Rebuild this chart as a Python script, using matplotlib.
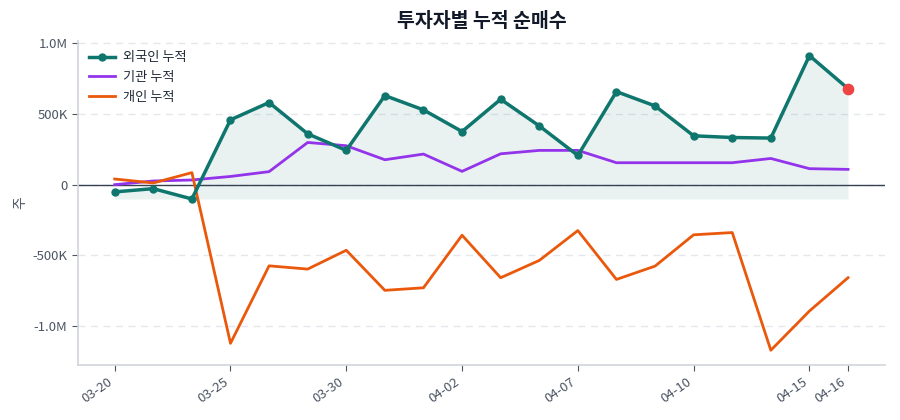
import matplotlib
matplotlib.use("Agg")
import matplotlib.pyplot as plt
from matplotlib.ticker import FuncFormatter

plt.rcParams['font.family'] = ['Noto Sans CJK KR', 'DejaVu Sans']

dates = ["03-20", "03-23", "03-24", "03-25", "03-26", "03-27", "03-30", "03-31",
         "04-01", "04-02", "04-03", "04-06", "04-07", "04-08", "04-09", "04-10",
         "04-13", "04-14", "04-15", "04-16"]
foreign = [-51e3, -28e3, -101e3, 458e3, 580e3, 359e3, 242e3, 629e3, 528e3, 375e3,
           603e3, 415e3, 206e3, 657e3, 556e3, 345e3, 333e3, 329e3, 911e3, 678e3]
institution = [0, 26e3, 33e3, 58e3, 92e3, 298e3, 275e3, 176e3, 216e3, 94e3,
               218e3, 242e3, 242e3, 155e3, 155e3, 155e3, 155e3, 185e3, 113e3, 108e3]
individual = [40e3, 12e3, 85e3, -1120e3, -573e3, -596e3, -463e3, -746e3, -728e3, -357e3,
              -657e3, -535e3, -324e3, -669e3, -575e3, -354e3, -338e3, -1169e3, -892e3, -657e3]
tick_idx = [0, 3, 6, 9, 12, 15, 18, 19]

C_FOR = "#0f766e"
C_INS = "#9333ea"
C_IND = "#ea580c"
TXT = "#4b5563"

fig = plt.figure(figsize=(9, 4.2), dpi=100)
ax = fig.add_axes([0.0867, 0.131, 0.8963, 0.7716])
x = list(range(len(dates)))

ax.fill_between(x, foreign, min(foreign), color=C_FOR, alpha=0.09, linewidth=0, zorder=1)
ax.axhline(0, color="#374151", linewidth=1.0, zorder=2)
ax.plot(x, foreign, color=C_FOR, linewidth=2.5, marker="o", markersize=5, label="외국인 누적", zorder=5)
ax.plot(x, institution, color=C_INS, linewidth=2, label="기관 누적", zorder=4)
ax.plot(x, individual, color=C_IND, linewidth=2, label="개인 누적", zorder=4)
ax.scatter([x[-1]], [foreign[-1]], s=55, color="#ef4444", zorder=6)

ax.set_xticks(tick_idx)
ax.set_xticklabels([dates[i] for i in tick_idx], rotation=35, ha="right")

def fmt(v, pos):
    if v == 0:
        return "0"
    if abs(v) >= 1e6:
        return f"{v/1e6:.1f}M"
    return f"{v/1e3:.0f}K"

ax.yaxis.set_major_formatter(FuncFormatter(fmt))
ax.set_yticks([-1e6, -5e5, 0, 5e5, 1e6])
ax.grid(axis="y", linestyle=(0, (5, 4)), color="#e5e7eb", linewidth=1)
ax.set_axisbelow(True)

for s in ["top", "right"]:
    ax.spines[s].set_visible(False)
for s in ["left", "bottom"]:
    ax.spines[s].set_color("#d1d5db")
    ax.spines[s].set_linewidth(1.2)
ax.tick_params(axis="both", colors="#4b5563", labelsize=9.5, length=4)
ax.tick_params(axis="x", labelcolor=TXT)
ax.tick_params(axis="y", labelcolor=TXT)

ax.set_ylabel("주", color=TXT, fontsize=10)
ax.set_title("투자자별 누적 순매수", fontsize=14, fontweight="bold", color="#111827", pad=10)

leg = ax.legend(loc="upper left", frameon=False, fontsize=9.5, handlelength=2.0,
                handletextpad=0.6, borderaxespad=0.4)
for t in leg.get_texts():
    t.set_color("#1f2937")

ax.set_xlim(-0.95, 19.95)
lo, hi = min(individual), max(foreign)
span = hi - lo
ax.set_ylim(lo - 0.05 * span, hi + 0.05 * span)

fig.savefig("out.png", dpi=100)
